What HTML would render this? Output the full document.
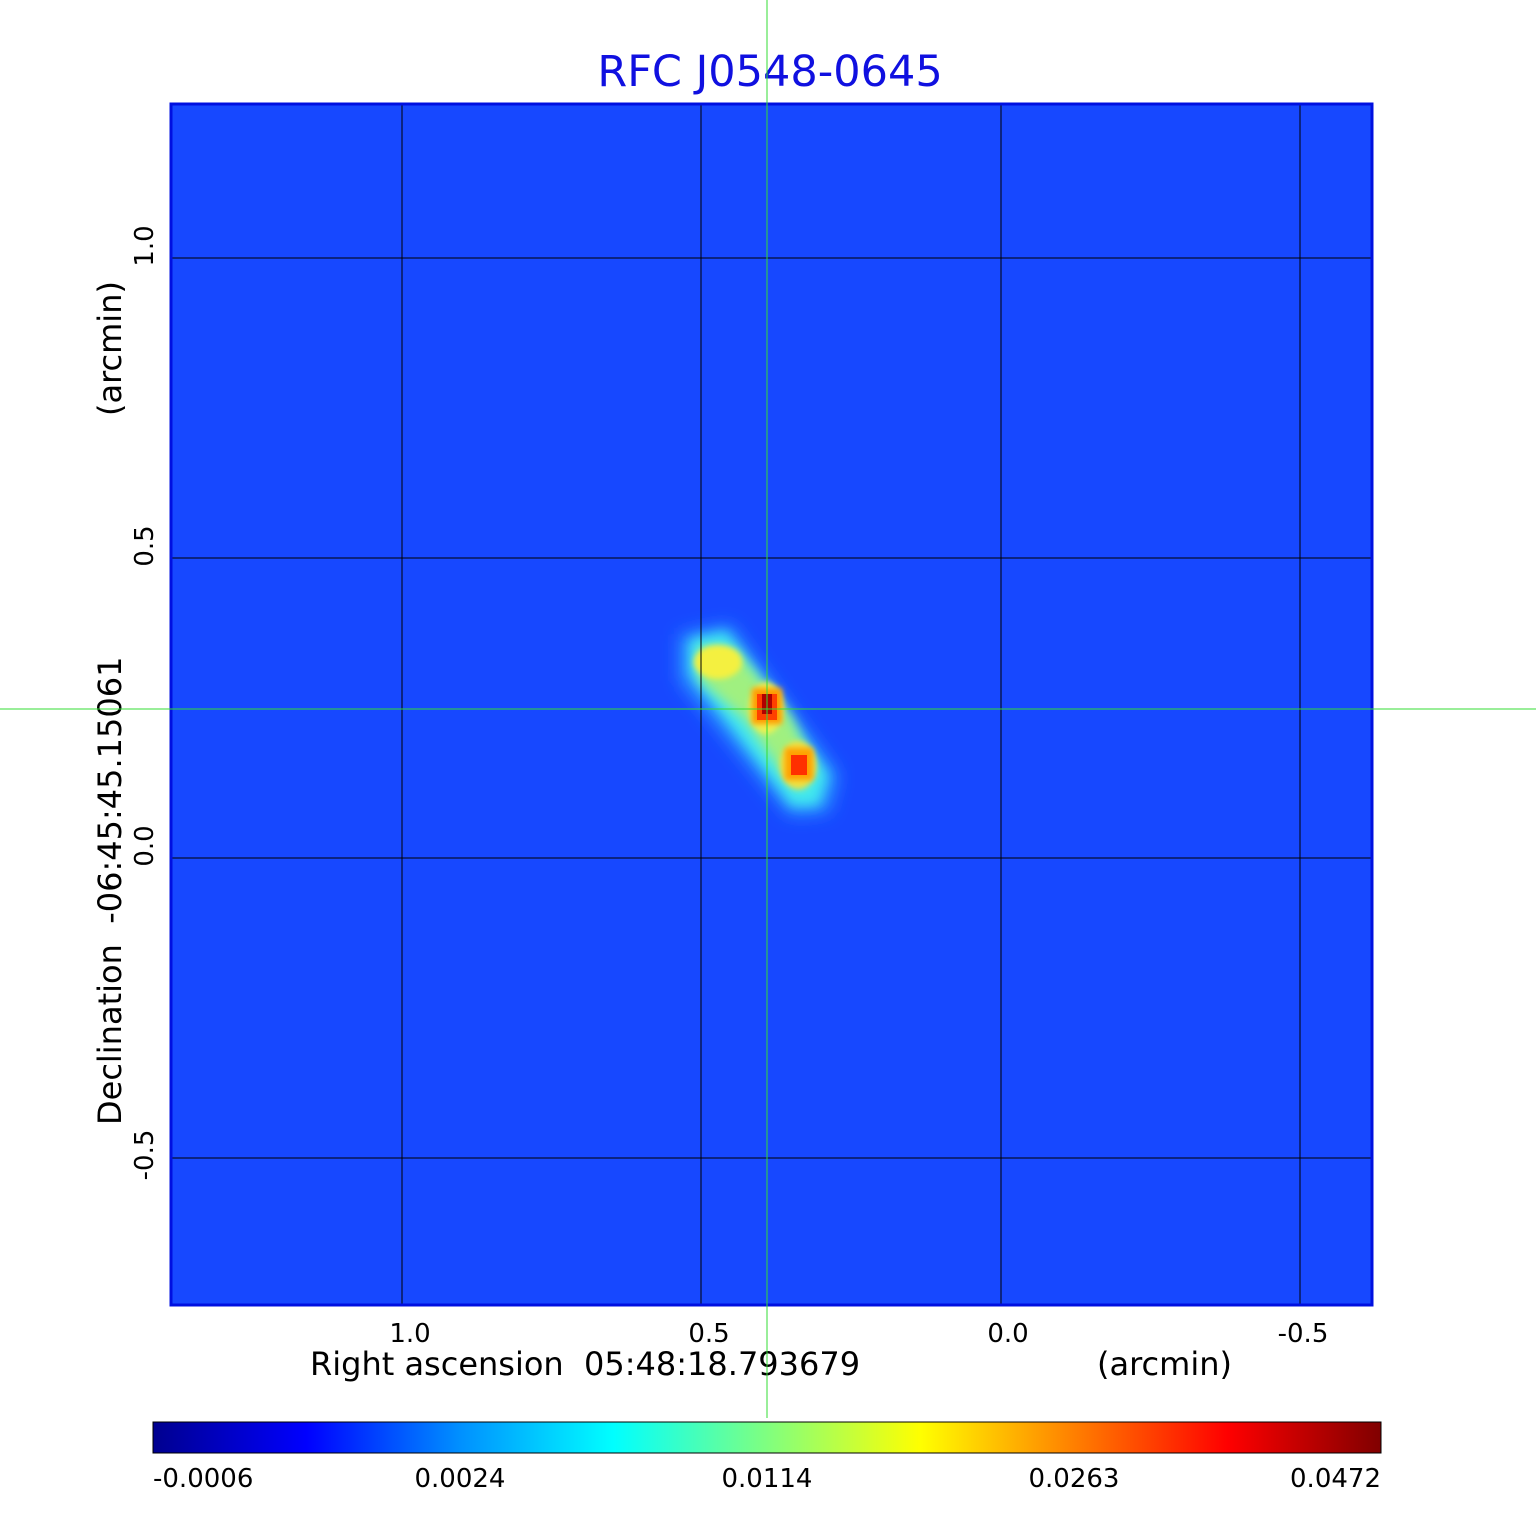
<!DOCTYPE html>
<html><head><meta charset="utf-8"><style>
html,body{margin:0;padding:0;background:#fff;}
svg text{font-family:"DejaVu Sans","Liberation Sans",sans-serif;}
</style></head><body>
<svg width="1536" height="1511" viewBox="0 0 1536 1511" xmlns="http://www.w3.org/2000/svg">
<defs>
<linearGradient id="jet" x1="0" x2="1" y1="0" y2="0">
<stop offset="0" stop-color="#00008f"/>
<stop offset="0.125" stop-color="#0000ff"/>
<stop offset="0.25" stop-color="#0090ff"/>
<stop offset="0.375" stop-color="#00ffff"/>
<stop offset="0.625" stop-color="#ffff00"/>
<stop offset="0.875" stop-color="#ff0000"/>
<stop offset="1" stop-color="#800000"/>
</linearGradient>
<filter id="b1" x="-50%" y="-50%" width="200%" height="200%"><feGaussianBlur stdDeviation="9"/></filter>
<filter id="b2" x="-50%" y="-50%" width="200%" height="200%"><feGaussianBlur stdDeviation="6"/></filter>
<filter id="b3" x="-50%" y="-50%" width="200%" height="200%"><feGaussianBlur stdDeviation="3"/></filter>
</defs>
<text x="770" y="86" font-size="43" fill="#1010e0" text-anchor="middle">RFC J0548-0645</text>
<rect x="170" y="103" width="1203" height="1203" fill="#1748ff"/>
<g>
<polygon points="680,635 730,625 838,775 828,812 790,815 680,680" fill="#2a9cff" filter="url(#b1)"/>
<polygon points="690,640 726,632 828,775 818,805 792,806 690,672" fill="#40e8f0" filter="url(#b2)"/>
<polygon points="700,648 735,650 790,715 815,770 800,790 780,770 745,720 700,680" fill="#a0f080" filter="url(#b2)"/>
<ellipse cx="718" cy="662" rx="24" ry="17" fill="#f4f040" filter="url(#b3)"/>
<ellipse cx="766" cy="708" rx="17" ry="26" fill="#eef050" filter="url(#b3)"/>
<ellipse cx="798" cy="765" rx="18" ry="24" fill="#f0e040" filter="url(#b3)"/>
<rect x="752" y="688" width="30" height="36" fill="#ff9a00" filter="url(#b3)"/>
<rect x="757" y="694" width="20" height="26" fill="#ff4000"/>
<rect x="762" y="694" width="10" height="20" fill="#b00000"/>
<rect x="785" y="748" width="28" height="32" fill="#ffa000" filter="url(#b3)"/>
<rect x="791" y="755" width="16" height="20" fill="#ff3000"/>
</g>
<g stroke="#000" stroke-width="1">
<line x1="402" y1="103" x2="402" y2="1306"/><line x1="701" y1="103" x2="701" y2="1306"/>
<line x1="1001" y1="103" x2="1001" y2="1306"/><line x1="1300" y1="103" x2="1300" y2="1306"/>
<line x1="170" y1="258" x2="1373" y2="258"/><line x1="170" y1="558" x2="1373" y2="558"/>
<line x1="170" y1="858" x2="1373" y2="858"/><line x1="170" y1="1158" x2="1373" y2="1158"/>
</g>
<rect x="171" y="104" width="1201" height="1201" fill="none" stroke="#0010e0" stroke-width="3"/>
<g font-size="26" fill="#000" text-anchor="middle">
<text x="410" y="1342">1.0</text><text x="709" y="1342">0.5</text>
<text x="1008" y="1342">0.0</text><text x="1303" y="1342">-0.5</text>
</g>
<g font-size="26" fill="#000" text-anchor="middle">
<text transform="translate(153,246) rotate(-90)">1.0</text>
<text transform="translate(153,546) rotate(-90)">0.5</text>
<text transform="translate(153,846) rotate(-90)">0.0</text>
<text transform="translate(153,1155) rotate(-90)">-0.5</text>
</g>
<text x="310" y="1375" font-size="32" fill="#000">Right ascension&#160;&#160;05:48:18.793679</text>
<text x="1097" y="1375" font-size="32" fill="#000">(arcmin)</text>
<text transform="translate(121,1125) rotate(-90)" font-size="32" fill="#000">Declination&#160;&#160;-06:45:45.15061</text>
<text transform="translate(121,416) rotate(-90)" font-size="32" fill="#000">(arcmin)</text>
<rect x="153" y="1422" width="1228" height="31" fill="url(#jet)" stroke="#000" stroke-width="1"/>
<g font-size="26" fill="#000">
<text x="153" y="1487">-0.0006</text>
<text x="460" y="1487" text-anchor="middle">0.0024</text>
<text x="767" y="1487" text-anchor="middle">0.0114</text>
<text x="1074" y="1487" text-anchor="middle">0.0263</text>
<text x="1381" y="1487" text-anchor="end">0.0472</text>
</g>
<line x1="767" y1="0" x2="767" y2="1418" stroke="#33dd33" stroke-width="1"/>
<line x1="0" y1="709" x2="1536" y2="709" stroke="#33dd33" stroke-width="1"/>
</svg>
</body></html>
